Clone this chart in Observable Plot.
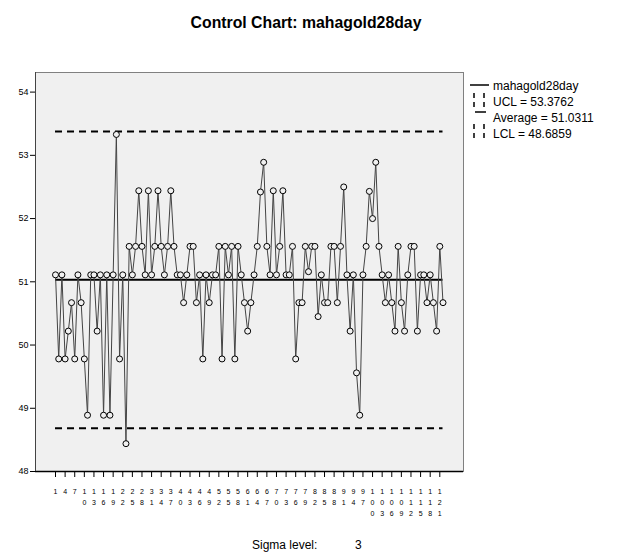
<!DOCTYPE html>
<html><head><meta charset="utf-8">
<script src="https://cdn.jsdelivr.net/npm/d3@7"></script>
<script src="https://cdn.jsdelivr.net/npm/@observablehq/plot@0.6"></script>
<style>body{margin:0;background:#fff;} svg{display:block}</style>
</head><body><div id="chart"></div>
<script>
const sampleValues = [
  51.11,49.78,51.11,49.78,50.22,50.67,49.78,51.11,50.67,49.78,
  48.89,51.11,51.11,50.22,51.11,48.89,51.11,48.89,51.11,53.33,
  49.78,51.11,48.44,51.56,51.11,51.56,52.44,51.56,51.11,52.44,
  51.11,51.56,52.44,51.56,51.11,51.56,52.44,51.56,51.11,51.11,
  50.67,51.11,51.56,51.56,50.67,51.11,49.78,51.11,50.67,51.11,
  51.11,51.56,49.78,51.56,51.11,51.56,49.78,51.56,51.11,50.67,
  50.22,50.67,51.11,51.56,52.42,52.89,51.56,51.11,52.44,51.11,
  51.56,52.44,51.11,51.11,51.56,49.78,50.67,50.67,51.56,51.16,
  51.56,51.56,50.45,51.11,50.67,50.67,51.56,51.56,50.67,51.56,
  52.5,51.11,50.22,51.11,49.56,48.89,51.11,51.56,52.43,52.0,
  52.89,51.56,51.11,50.67,51.11,50.67,50.22,51.56,50.67,50.22,
  51.11,51.56,51.56,50.22,51.11,51.11,50.67,51.11,50.67,50.22,
  51.56,50.67
];
const xTickLabels = [1,4,7,10,13,16,19,22,25,28,31,34,37,40,43,46,49,52,55,58,61,64,67,70,73,76,79,82,85,88,91,94,97,100,103,106,109,112,115,118,121];
const yTickLabels = [48,49,50,51,52,53,54];
const seriesName = "mahagold28day";
const controlNames = ["UCL","Average","LCL"];
const controlValues = [53.3762, 51.0311, 48.6859];
const sigmaLevel = 3;
const titleText = "Control Chart: mahagold28day";

const data = sampleValues.map((v, k) => ({sample: k + 1, value: v}));
const first = 1, last = sampleValues.length;
const limits = [controlValues[0], controlValues[2]];
const font = "Liberation Sans, Arial, sans-serif";

const chart = Plot.plot({
  width: 618, height: 556,
  marginLeft: 35, marginRight: 155, marginTop: 72, marginBottom: 85,
  style: {fontFamily: font, background: "#fff", color: "#000"},
  x: {type: "linear", domain: [-5.25, 128.4]},
  y: {domain: [48, 54.31]},
  marks: [
    Plot.frame({fill: "#f0f0f0", stroke: "#808080"}),
    Plot.ruleY([48], {stroke: "#000", strokeWidth: 1.5}),
    Plot.ruleX([-5.25], {stroke: "#444", strokeWidth: 1}),
    Plot.axisX(xTickLabels, {tickSize: 6, tickPadding: 8, fontSize: 7, lineHeight: 1.62,
      tickFormat: d => String(d).split("").join("\n"), stroke: "#000", label: null}),
    Plot.axisY(yTickLabels, {tickSize: 5, tickPadding: 2, fontSize: 9, stroke: "#000",
      tickFormat: d => String(d), label: null}),
    Plot.ruleY(limits, {x1: first, x2: last, stroke: "#000", strokeWidth: 2, strokeDasharray: "7,5"}),
    Plot.ruleY([controlValues[1]], {x1: first, x2: last, stroke: "#000", strokeWidth: 2}),
    Plot.line(data, {x: "sample", y: "value", stroke: "#444", strokeWidth: 1}),
    Plot.dot(data, {x: "sample", y: "value", r: 3, stroke: "#000", strokeWidth: 1, fill: "#f0f0f0"})
  ]
});

const svg = d3.select(chart);
svg.append("text").attr("x", 306).attr("y", 28).attr("text-anchor", "middle")
  .attr("font-family", font).attr("font-weight", "bold").attr("font-size", 15.8).text(titleText);

// legend
const lg = svg.append("g").attr("font-family", font).attr("font-size", 12).attr("fill", "#000").attr("text-anchor", "start");
const rowY = [86, 102, 118, 134];
const labels = [seriesName].concat(controlNames.map((n, k) => `${n} = ${controlValues[k].toFixed(4)}`));
labels.forEach((t, k) => lg.append("text").attr("x", 493).attr("y", rowY[k]).attr("dy", "0.35em").text(t));
lg.append("line").attr("x1", 470).attr("x2", 489).attr("y1", 85).attr("y2", 85).attr("stroke", "#000").attr("stroke-width", 1.5);
[[93, 108], [124, 139]].forEach(([a, b]) => {
  [474, 484].forEach(x => lg.append("line").attr("x1", x).attr("x2", x).attr("y1", a).attr("y2", b)
    .attr("stroke", "#000").attr("stroke-width", 1.5).attr("stroke-dasharray", "5,4"));
});
lg.append("line").attr("x1", 475).attr("x2", 486).attr("y1", 112).attr("y2", 112).attr("stroke", "#000").attr("stroke-width", 1.5);

const foot = svg.append("g").attr("font-family", font).attr("font-size", 12).attr("text-anchor", "start");
foot.append("text").attr("x", 252).attr("y", 545).attr("dy", "0.35em").text("Sigma level:");
foot.append("text").attr("x", 355).attr("y", 545).attr("dy", "0.35em").text(String(sigmaLevel));

document.getElementById("chart").appendChild(chart);
</script>
</body></html>
